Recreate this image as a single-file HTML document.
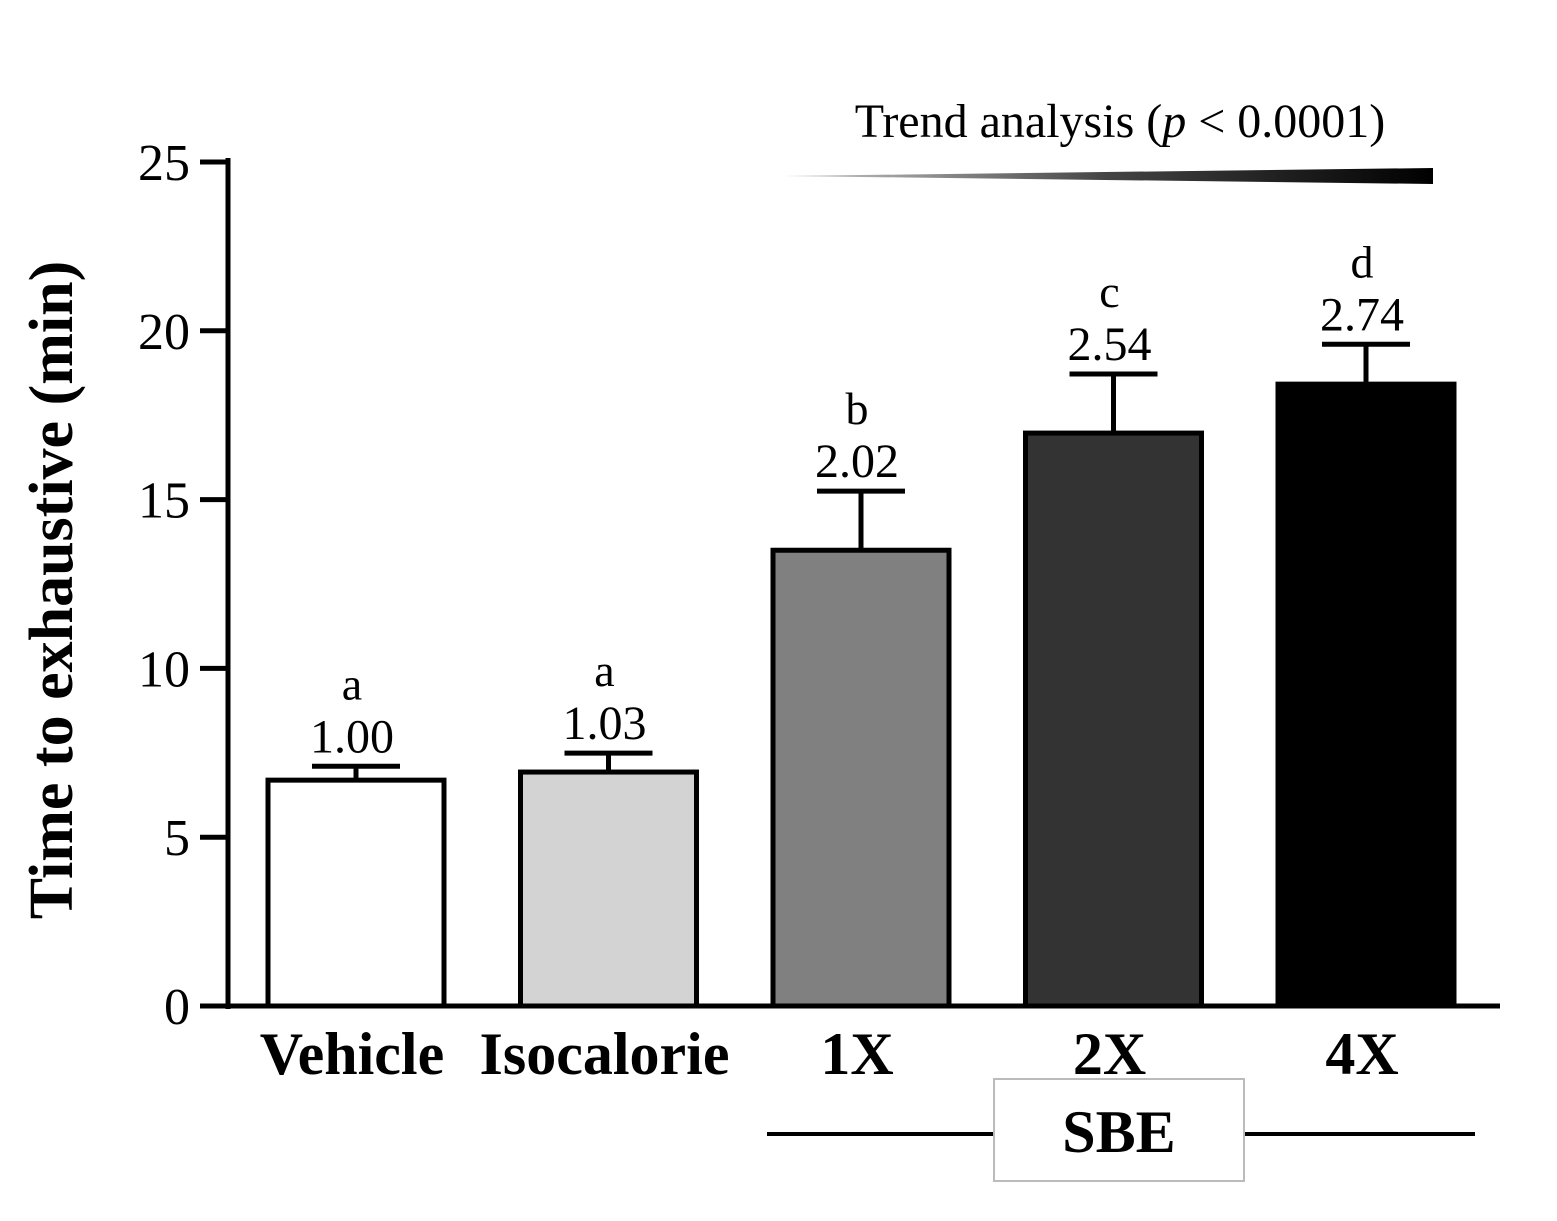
<!DOCTYPE html>
<html><head><meta charset="utf-8"><style>
html,body{margin:0;padding:0;background:#fff}
svg{display:block}
text{font-family:"Liberation Serif",serif}
</style></head><body>
<svg id="chart" width="1557" height="1221" viewBox="0 0 1557 1221">
<g id="bars"></g>
<g id="axes"></g>
<text x="72" y="590" transform="rotate(-90 72 590)" text-anchor="middle" font-size="62" font-weight="bold">Time to exhaustive (min)</text>
<text x="1120" y="137" text-anchor="middle" font-size="48">Trend analysis (<tspan font-style="italic">p</tspan> &lt; 0.0001)</text>
<defs><linearGradient id="tg" x1="0" x2="1"><stop offset="0" stop-color="#ccc"/><stop offset="0.5" stop-color="#444"/><stop offset="1" stop-color="#000"/></linearGradient></defs>
<polygon points="783,176 1433,168 1433,184" fill="url(#tg)"/>
<line x1="767" y1="1134" x2="994" y2="1134" stroke="#000" stroke-width="4"/>
<line x1="1244" y1="1134" x2="1475" y2="1134" stroke="#000" stroke-width="4"/>
<rect x="994" y="1079" width="250" height="102" fill="#fff" stroke="#bbb" stroke-width="2"/>
<text x="1119" y="1152" text-anchor="middle" font-size="60" font-weight="bold">SBE</text>
</svg>
<script>
const categories=["Vehicle","Isocalorie","1X","2X","4X"];
const means=[6.69,6.93,13.5,16.97,18.42];
const errors=[0.41,0.56,1.75,1.75,1.18];
const letters=["a","a","b","c","d"];
const ratios=["1.00","1.03","2.02","2.54","2.74"];
const fills=["#fff","#d3d3d3","#808080","#333","#000"];
const yTicks=[0,5,10,15,20,25];
const NS="http://www.w3.org/2000/svg";
const y0=1006,pxPerUnit=33.76;
function yScale(v){return y0-v*pxPerUnit;}
const bx0=268,step=252.5,bw=176;
function xScale(i){return bx0+i*step;}
function mk(tag,attrs,parent){const e=document.createElementNS(NS,tag);for(const k in attrs)e.setAttribute(k,attrs[k]);parent.appendChild(e);return e;}
const bars=document.getElementById('bars'),axes=document.getElementById('axes');
categories.forEach((c,i)=>{
  const x=xScale(i),cx=x+bw/2,top=yScale(means[i]),et=yScale(means[i]+errors[i]);
  const s=mk('line',{x1:cx,y1:top,x2:cx,y2:et,stroke:'#000','stroke-width':5},bars);
  
  
  const cap=mk('line',{x1:cx-44,y1:et,x2:cx+44,y2:et,stroke:'#000','stroke-width':5},bars);
  
  
  const r=mk('rect',{x:x,y:top,width:bw,height:y0-top,fill:fills[i],stroke:'#000','stroke-width':5},bars);
  
  
  const t1=mk('text',{x:cx-4,y:et-14,'text-anchor':'middle','font-size':48},bars);t1.textContent=ratios[i];
  
  
  const t2=mk('text',{x:cx-4,y:et-67,'text-anchor':'middle','font-size':46},bars);t2.textContent=letters[i];
  
  
  const t3=mk('text',{x:cx-4,y:1074,'text-anchor':'middle','font-size':60,'font-weight':'bold'},axes);t3.textContent=c;
  
  
});
const ya=mk('line',{x1:228,y1:158,x2:228,y2:1009,stroke:'#000','stroke-width':5},axes);


const xa=mk('line',{x1:200,y1:y0,x2:1500,y2:y0,stroke:'#000','stroke-width':5},axes);


yTicks.forEach(v=>{
  const y=yScale(v);
  const l=mk('line',{x1:200,y1:y,x2:228,y2:y,stroke:'#000','stroke-width':5},axes);
  
  
  const t=mk('text',{x:190,y:y+18,'text-anchor':'end','font-size':52},axes);t.textContent=v;
  
  
});
</script>
</body></html>
